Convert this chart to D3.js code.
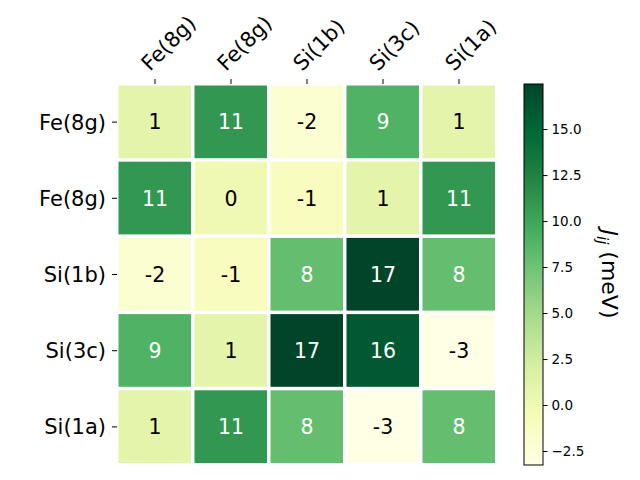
<!DOCTYPE html>
<html>
<head>
<meta charset="utf-8">
<script src="https://cdn.jsdelivr.net/npm/d3@7"></script>
<style>
  body { margin: 0; background: #fff; }
  text { font-family: "DejaVu Sans", sans-serif; }
</style>
</head>
<body>
<svg id="chart" width="640" height="480"></svg>
<script>
// atom labels (rows and columns are the same sites)
var sites = ["Fe(8g)", "Fe(8g)", "Si(1b)", "Si(3c)", "Si(1a)"];

// exchange couplings J_ij in meV, row by row
var rowFe1 = [1, 11, -2, 9, 1];
var rowFe2 = [11, 0, -1, 1, 11];
var rowSi1b = [-2, -1, 8, 17.45, 8];
var rowSi3c = [9, 1, 17.45, 16, -3.26];
var rowSi1a = [1, 11, 8, -3.26, 8];
var matrix = [rowFe1, rowFe2, rowSi1b, rowSi3c, rowSi1a];

var cbarTicks = [-2.5, 0, 2.5, 5, 7.5, 10, 12.5, 15];

// YlGn colorbrewer stops, linear like matplotlib
var ylgn = ["#ffffe5", "#f7fcb9", "#d9f0a3", "#addd8e", "#78c679",
            "#41ab5d", "#238443", "#006837", "#004529"];

var svg = d3.select("#chart");

var vals = matrix.flat();
var vmin = d3.min(vals), vmax = d3.max(vals);

var stops = ylgn.map(function(c, i) { return vmin + (vmax - vmin) * i / (ylgn.length - 1); });
var color = d3.scaleLinear().domain(stops).range(ylgn).interpolate(d3.interpolateRgb).clamp(true);

var x = d3.scaleBand().domain(d3.range(sites.length)).range([117, 497]);
var y = d3.scaleBand().domain(d3.range(sites.length)).range([84, 465]);

var cells = [];
matrix.forEach(function(row, i) {
  row.forEach(function(v, j) { cells.push({r: i, c: j, v: v}); });
});

svg.append("g")
  .selectAll("rect")
  .data(cells)
  .enter()
  .append("rect")
  .attr("x", function(d) { return x(d.c) + 1.5; })
  .attr("y", function(d) { return y(d.r) + 1.5; })
  .attr("width", x.bandwidth() - 3.5)
  .attr("height", y.bandwidth() - 3.5)
  .attr("fill", function(d) { return color(d.v); });

svg.append("g")
  .selectAll("text")
  .data(cells)
  .enter()
  .append("text")
  .attr("x", function(d) { return x(d.c) + x.bandwidth() / 2; })
  .attr("y", function(d) { return y(d.r) + y.bandwidth() / 2; })
  .attr("dy", "0.36em")
  .attr("text-anchor", "middle")
  .style("font-size", "20.5px")
  .attr("fill", function(d) { return d.v > 5 ? "#fff" : "#000"; })
  .text(function(d) { return String(Math.round(d.v)); });

// top ticks + rotated labels
var topAxis = svg.append("g");
topAxis.selectAll("line")
  .data(sites)
  .enter()
  .append("line")
  .attr("x1", function(d, i) { return x(i) + x.bandwidth() / 2; })
  .attr("x2", function(d, i) { return x(i) + x.bandwidth() / 2; })
  .attr("y1", 79).attr("y2", 84)
  .attr("stroke", "#000").attr("stroke-width", 1);
topAxis.selectAll("text")
  .data(sites)
  .enter()
  .append("text")
  .attr("transform", function(d, i) {
    return "translate(" + (x(i) + x.bandwidth() / 2 - 5) + ",72) rotate(-45)";
  })
  .style("font-size", "21px")
  .text(function(d) { return d; });

// left ticks + labels
var leftAxis = svg.append("g");
leftAxis.selectAll("line")
  .data(sites)
  .enter()
  .append("line")
  .attr("x1", 112).attr("x2", 117)
  .attr("y1", function(d, i) { return y(i) + y.bandwidth() / 2; })
  .attr("y2", function(d, i) { return y(i) + y.bandwidth() / 2; })
  .attr("stroke", "#000").attr("stroke-width", 1);
leftAxis.selectAll("text")
  .data(sites)
  .enter()
  .append("text")
  .attr("x", 106)
  .attr("y", function(d, i) { return y(i) + y.bandwidth() / 2; })
  .attr("dy", "0.36em")
  .attr("text-anchor", "end")
  .style("font-size", "21px")
  .text(function(d) { return d; });

// colorbar
var cb = d3.scaleLinear().domain([vmin, vmax]).range([465, 84]);
var defs = svg.append("defs");
var grad = defs.append("linearGradient").attr("id", "cbgrad")
  .attr("x1", 0).attr("y1", 1).attr("x2", 0).attr("y2", 0);
grad.selectAll("stop")
  .data(ylgn)
  .enter()
  .append("stop")
  .attr("offset", function(d, i) { return i / (ylgn.length - 1); })
  .attr("stop-color", function(d) { return d; });

svg.append("rect")
  .attr("x", 524).attr("y", 84)
  .attr("width", 19).attr("height", 381)
  .attr("fill", "url(#cbgrad)")
  .attr("stroke", "#000").attr("stroke-width", 1);

var cbAxis = d3.axisRight(cb)
  .tickValues(cbarTicks)
  .tickSize(4.5)
  .tickPadding(4)
  .tickFormat(function(d) { return d3.format(".1f")(d); });

var cbg = svg.append("g")
  .attr("transform", "translate(543,0)")
  .call(cbAxis);
cbg.select(".domain").remove();
cbg.selectAll("text").style("font-size", "13.5px").style("font-family", "DejaVu Sans").attr("fill", "#000");
cbg.selectAll("line").attr("stroke", "#000");

var lab = svg.append("text")
  .attr("transform", "translate(601.5,274) rotate(90)")
  .attr("text-anchor", "middle")
  .style("font-size", "22px");
lab.append("tspan").style("font-style", "italic").text("J");
lab.append("tspan").style("font-style", "italic").style("font-size", "15px").attr("dy", "5").text("ij");
lab.append("tspan").attr("dy", "-5").text(" (meV)");
</script>
</body>
</html>
